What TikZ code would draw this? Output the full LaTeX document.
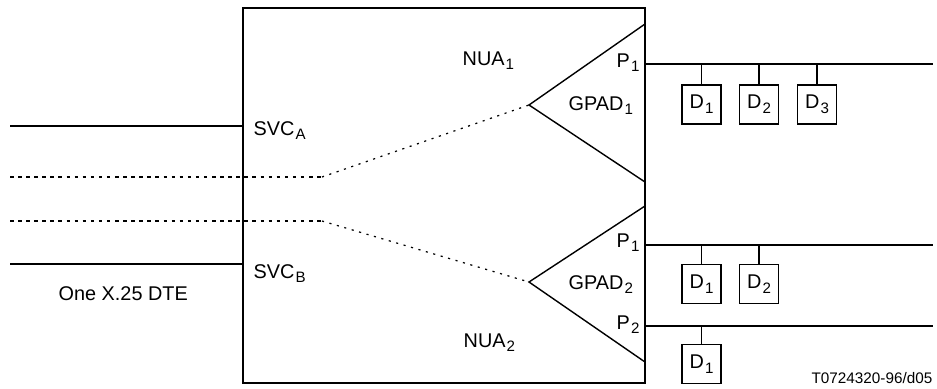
\documentclass[tikz,border=0pt]{standalone}
\usepackage{fontspec}
\setmainfont{Liberation Sans}
\usetikzlibrary{calc}

\newcommand\lowidx[1]{\kern0.6pt\raisebox{-2.8pt}{\fontsize{8.6}{9}\selectfont #1}}

\tikzset{
	dev/.style={draw, line width=0.8pt, inner sep=0pt, minimum width=0.78cm, minimum height=0.78cm},
	hdots/.style={line width=1pt, dash pattern=on 2pt off 2.6pt},
	sdots/.style={line width=0.7pt, dash pattern=on 1.2pt off 3.2pt},
	lab/.style={anchor=base west, inner sep=0pt}
}

\begin{document}
\begin{tikzpicture}[x=0.02cm, y=-0.02cm, line width=0.8pt, font=\fontsize{11.3}{13}\selectfont]
			%%%%% START %%%%%
			\useasboundingbox (0,0) rectangle (937,389);
			
			% network box
			\draw (243,8) rectangle (645,383);
			
			% the two GPADs
			\coordinate (g1) at (529,105);
			\coordinate (g2) at (529,282);
			\draw (645,24) -- (g1) -- (645,182);
			\draw (645,206) -- (g2) -- (645,362);
			
			% circuits from the DTE
			\coordinate (sa) at (10,126);
			\coordinate (sb) at (10,264);
			\draw (sa) -- (sa -| 243,0);
			\draw (sb) -- (sb -| 243,0);
			\coordinate (da) at (10,177);
			\coordinate (db) at (10,221);
			\coordinate (ka) at (322,177);
			\coordinate (kb) at (322,221);
			\draw[hdots] (da) -- (ka);
			\draw[hdots] (db) -- (kb);
			\draw[sdots] (ka) -- (g1);
			\draw[sdots] (kb) -- (g2);
			
			% ports
			\coordinate (p11) at (645,64);
			\coordinate (p21) at (645,245);
			\coordinate (p22) at (645,326);
			\draw (p11) -- (933,64);
			\draw (p21) -- (933,245);
			\draw (p22) -- (933,326);
			
			% devices
			\node[dev] (a1) at (701.5,104.5) {D\lowidx{1}};
			\node[dev] (a2) at (759,104.5) {D\lowidx{2}};
			\node[dev] (a3) at (817,104.5) {D\lowidx{3}};
			\node[dev] (b1) at (701.5,284) {D\lowidx{1}};
			\node[dev] (b2) at (759,284) {D\lowidx{2}};
			\node[dev] (c1) at (701.5,364) {D\lowidx{1}};
			\draw (a1) -- (a1 |- p11);
			\draw (a2) -- (a2 |- p11);
			\draw (a3) -- (a3 |- p11);
			\draw (b1) -- (b1 |- p21);
			\draw (b2) -- (b2 |- p21);
			\draw (c1) -- (c1 |- p22);
			
			% labels
			\node[lab] (nua1) at (462,65) {NUA\lowidx{1}};
			\node[lab] (nua2) at (463,347) {NUA\lowidx{2}};
			\node[lab] (svca) at (253,135) {SVC\lowidx{A}};
			\node[lab] (svcb) at (253,278) {SVC\lowidx{B}};
			\node[lab] (gpad1) at (568,110) {GPAD\lowidx{1}};
			\node[lab] (gpad2) at (568,289) {GPAD\lowidx{2}};
			\node[lab] (pa1) at (616,67) {P\lowidx{1}};
			\node[lab] (pb1) at (616,247) {P\lowidx{1}};
			\node[lab] (pb2) at (616,329) {P\lowidx{2}};
			\node[lab] (dte) at (58,300) {One X.25 DTE};
			\node[anchor=base east, inner sep=0pt, font=\fontsize{8.7}{10}\selectfont] (ref) at (933,383) {T0724320-96/d05};
			
			%%%%% END %%%%%
\end{tikzpicture}
\end{document}
